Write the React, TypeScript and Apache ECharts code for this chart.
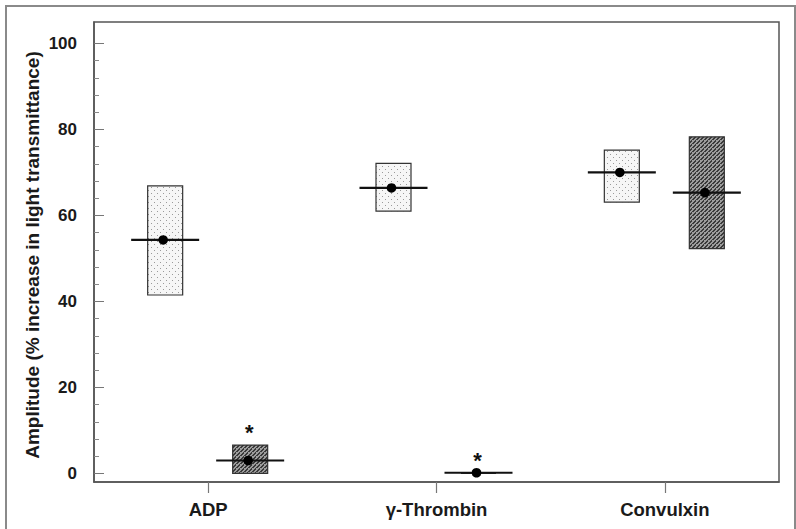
import React, { useEffect, useRef } from "react";
import * as echarts from "echarts";

const categories = ["ADP", "γ-Thrombin", "Convulxin"];
const dottedLow = [41.5, 61.0, 63.1];
const dottedHigh = [66.9, 72.1, 75.2];
const dottedMean = [54.3, 66.4, 70.0];
const hatchedLow = [0, 0, 52.3];
const hatchedHigh = [6.6, 0, 78.3];
const hatchedMean = [3.0, 0.15, 65.3];
const significant = [true, true, false];
const yMajorTicks = [0, 20, 40, 60, 80, 100];
const yMinorTicks = [4, 8, 12, 16, 24, 28, 32, 36, 44, 48, 52, 56, 64, 68, 72, 76, 84, 88, 92, 96];
const yTitle = "Amplitude (% increase in light transmittance)";

const FONT = 'Arial, "Liberation Sans", Helvetica, sans-serif';

function makeDotted() {
  const c = document.createElement("canvas");
  c.width = 6;
  c.height = 6;
  const g = c.getContext("2d")!;
  g.fillStyle = "#f6f6f6";
  g.fillRect(0, 0, 6, 6);
  g.fillStyle = "#9a9a9a";
  g.fillRect(1, 1, 1, 1);
  g.fillRect(4, 4, 1, 1);
  return c;
}

function makeHatched() {
  const c = document.createElement("canvas");
  c.width = 4;
  c.height = 4;
  const g = c.getContext("2d")!;
  g.fillStyle = "#9c9c9c";
  g.fillRect(0, 0, 4, 4);
  g.fillStyle = "#3a3a3a";
  for (let i = 0; i < 4; i++) g.fillRect(i, 3 - i, 1, 1);
  for (let i = 0; i < 3; i++) g.fillRect(i + 1, 3 - i, 1, 1);
  return c;
}

export default function App() {
  const ref = useRef<HTMLDivElement>(null);
  useEffect(() => {
    document.body.style.margin = "0";
    const chart = echarts.init(ref.current!, null, { renderer: "svg" });
    const dotted = makeDotted();
    const hatched = makeHatched();

    const makeRender = (offset: number, pattern: any, stars: boolean) =>
      (params: any, api: any) => {
        const cat = api.value(0);
        const cx = api.coord([cat, 0])[0] + offset;
        const yLo = api.coord([cat, api.value(1)])[1];
        const yHi = api.coord([cat, api.value(2)])[1];
        const yM = api.coord([cat, api.value(3)])[1];
        const bw = 35;
        const children: any[] = [
          {
            type: "rect",
            shape: { x: cx - bw / 2, y: yHi, width: bw, height: Math.max(0, yLo - yHi) },
            style: { fill: pattern, stroke: "#333", lineWidth: 1.2 },
          },
          {
            type: "line",
            shape: { x1: cx - 34, y1: yM, x2: cx + 34, y2: yM },
            style: { stroke: "#111", lineWidth: 2.2 },
          },
          {
            type: "circle",
            shape: { cx: cx - 2, cy: yM, r: 4.8 },
            style: { fill: "#000" },
          },
        ];
        if (stars && significant[params.dataIndex]) {
          children.push({
            type: "text",
            x: cx - 1,
            y: yHi - 13,
            style: {
              text: "*",
              font: `bold 22px ${FONT}`,
              fill: "#111",
              textAlign: "center",
              textVerticalAlign: "middle",
            },
          });
        }
        return { type: "group", children };
      };

    const dottedData = categories.map((_, i) => [i, dottedLow[i], dottedHigh[i], dottedMean[i]]);
    const hatchedData = categories.map((_, i) => [i, hatchedLow[i], hatchedHigh[i], hatchedMean[i]]);

    const dottedPattern = { type: "pattern", image: dotted, repeat: "repeat", imageWidth: 6, imageHeight: 6 };
    const hatchedPattern = { type: "pattern", image: hatched, repeat: "repeat", imageWidth: 4, imageHeight: 4 };

    chart.setOption({
      animation: false,
      backgroundColor: "#fff",
      grid: {
        left: 94,
        top: 22,
        right: 17,
        bottom: 47,
        show: true,
        borderColor: "#555",
        borderWidth: 1.5,
        backgroundColor: "transparent",
      },
      xAxis: {
        type: "category",
        data: categories,
        boundaryGap: true,
        axisLine: { show: true, onZero: false, lineStyle: { color: "#555", width: 1.5 } },
        axisTick: { show: true, alignWithLabel: true, length: 11, lineStyle: { color: "#777", width: 1.2 } },
        axisLabel: { fontFamily: FONT, fontWeight: "bold", fontSize: 18.5, color: "#1a1a1a", margin: 18 },
        splitLine: { show: false },
      },
      yAxis: [
        {
          type: "value",
          min: -2,
          max: 105,
          position: "left",
          axisLine: { show: true, lineStyle: { color: "#555", width: 1.5 } },
          axisTick: { show: true, inside: true, length: 10, customValues: yMajorTicks, lineStyle: { color: "#777" } },
          axisLabel: {
            customValues: yMajorTicks,
            fontFamily: FONT,
            fontWeight: "bold",
            fontSize: 17,
            color: "#1a1a1a",
            margin: 17,
          },
          splitLine: { show: false },
        },
        {
          type: "value",
          min: -2,
          max: 105,
          position: "left",
          axisLine: { show: false },
          axisTick: { show: true, inside: true, length: 5, customValues: yMinorTicks, lineStyle: { color: "#888" } },
          axisLabel: { show: false },
          splitLine: { show: false },
        },
      ],
      graphic: [
        {
          type: "rect",
          shape: { x: 6, y: 6, width: 789, height: 560 },
          style: { fill: "none", stroke: "#8a8a8a", lineWidth: 2 },
          silent: true,
        },
        {
          type: "text",
          x: 32,
          y: 255,
          rotation: Math.PI / 2,
          style: {
            text: yTitle,
            font: `bold 19px ${FONT}`,
            fill: "#1a1a1a",
            textAlign: "center",
            textVerticalAlign: "middle",
          },
        },
      ],
      series: [
        {
          type: "custom",
          name: "dotted",
          yAxisIndex: 0,
          data: dottedData,
          encode: { x: 0, y: [1, 2, 3] },
          renderItem: makeRender(-43, dottedPattern, false),
        },
        {
          type: "custom",
          name: "hatched",
          yAxisIndex: 0,
          data: hatchedData,
          encode: { x: 0, y: [1, 2, 3] },
          renderItem: makeRender(42, hatchedPattern, true),
        },
      ],
    });
    return () => chart.dispose();
  }, []);
  return <div ref={ref} style={{ width: 796, height: 529 }} />;
}
